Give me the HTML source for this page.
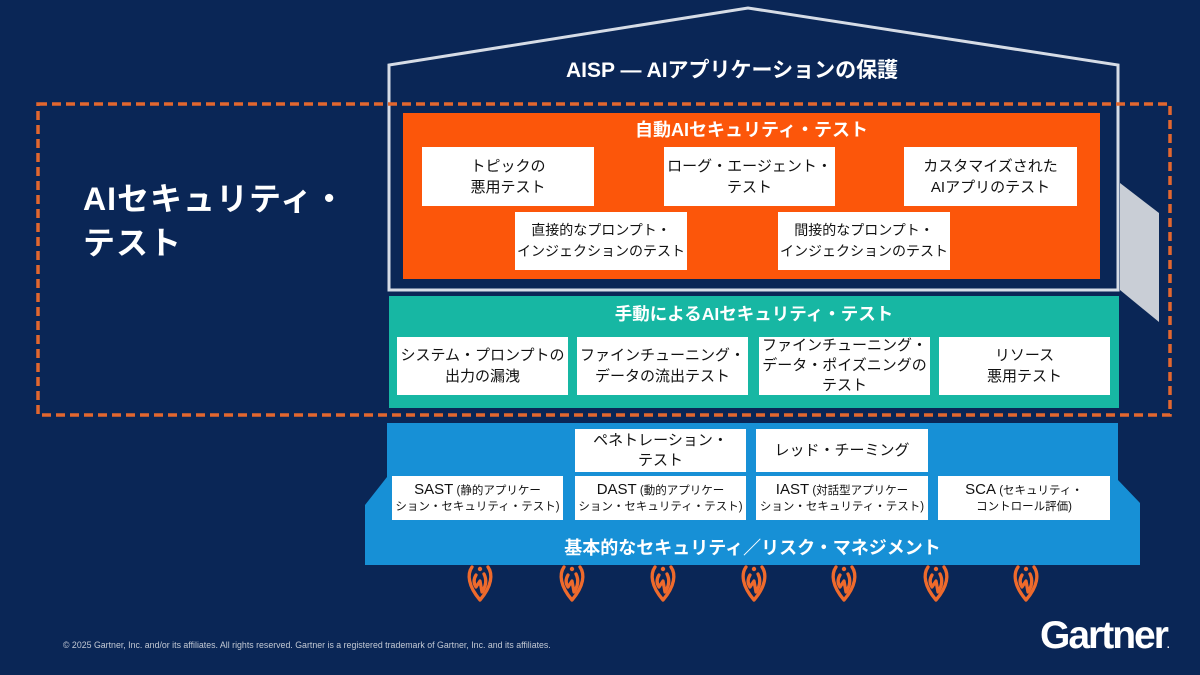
<!DOCTYPE html>
<html><head><meta charset="utf-8">
<style>
html,body{margin:0;padding:0;}
body{width:1200px;height:675px;position:relative;overflow:hidden;background:#0a2656;font-family:"Liberation Sans","Noto Sans CJK JP",sans-serif;}
.t{position:absolute;color:#fff;font-weight:bold;white-space:nowrap;}
.b{position:absolute;background:#fff;display:flex;align-items:center;justify-content:center;text-align:center;font-size:15px;line-height:21px;color:#111;white-space:nowrap;}
.s{font-size:11.5px;line-height:16px;}
.s .a{font-size:15px;}
</style></head><body>
<svg width="1200" height="675" style="position:absolute;left:0;top:0">
<rect width="1200" height="675" fill="#0a2656"/>
<polygon points="1120,183 1159,213 1159,322 1120,290" fill="#c9ced6"/>
<polygon points="389,290 389,65 748,8 1118,65 1118,290" fill="none" stroke="#d6dce6" stroke-width="3"/>
<rect x="403" y="113" width="697" height="166" fill="#fc560a"/>
<rect x="389" y="296" width="730" height="112" fill="#17b7a3"/>
<polygon points="387,423 1118,423 1118,480 1140,503 1140,565 365,565 365,505 387,477" fill="#1790d6"/>
<rect x="38" y="104" width="1132" height="311" fill="none" stroke="#e2672f" stroke-width="3.5" stroke-dasharray="9 5"/>
<defs>
<g id="fl" fill="none" stroke="#ee6a2c" stroke-width="3.3" stroke-linejoin="round" stroke-linecap="round">
<path d="M5,3 C0,10 1,22 13,36 C25,22 26,10 21,3"/>
<circle cx="13" cy="5" r="2.2" fill="#ee6a2c" stroke="none"/>
<path d="M9,11 C6,16 7,20 9,23 L13,17 L15,28 C19,22 20,16 17,10"/>
</g>
</defs>
<use href="#fl" x="467" y="564"/>
<use href="#fl" x="559" y="564"/>
<use href="#fl" x="650" y="564"/>
<use href="#fl" x="741" y="564"/>
<use href="#fl" x="831" y="564"/>
<use href="#fl" x="923" y="564"/>
<use href="#fl" x="1013" y="564"/>
</svg>

<div class="t" style="left:83px;top:177px;font-size:32px;line-height:44px;letter-spacing:1px;">AIセキュリティ・<br>テスト</div>

<div class="t" style="left:566px;top:58px;font-size:21px;line-height:26px;">AISP — AIアプリケーションの保護</div>

<div class="t" style="left:403px;width:697px;top:119px;font-size:18px;line-height:22px;text-align:center;">自動AIセキュリティ・テスト</div>
<div class="b" style="left:422px;top:147px;width:172px;height:59px;">トピックの<br>悪用テスト</div>
<div class="b" style="left:664px;top:147px;width:171px;height:59px;">ローグ・エージェント・<br>テスト</div>
<div class="b" style="left:904px;top:147px;width:173px;height:59px;">カスタマイズされた<br>AIアプリのテスト</div>
<div class="b" style="left:515px;top:212px;width:172px;height:58px;font-size:14px;">直接的なプロンプト・<br>インジェクションのテスト</div>
<div class="b" style="left:778px;top:212px;width:172px;height:58px;font-size:14px;">間接的なプロンプト・<br>インジェクションのテスト</div>

<div class="t" style="left:389px;width:730px;top:303px;font-size:17.5px;line-height:22px;text-align:center;">手動によるAIセキュリティ・テスト</div>
<div class="b" style="left:397px;top:337px;width:171px;height:58px;">システム・プロンプトの<br>出力の漏洩</div>
<div class="b" style="left:577px;top:337px;width:171px;height:58px;">ファインチューニング・<br>データの流出テスト</div>
<div class="b" style="left:759px;top:337px;width:171px;height:58px;line-height:20px;">ファインチューニング・<br>データ・ポイズニングの<br>テスト</div>
<div class="b" style="left:939px;top:337px;width:171px;height:58px;">リソース<br>悪用テスト</div>

<div class="b" style="left:575px;top:429px;width:171px;height:43px;line-height:20px;">ペネトレーション・<br>テスト</div>
<div class="b" style="left:756px;top:429px;width:172px;height:43px;">レッド・チーミング</div>
<div class="b s" style="left:392px;top:476px;width:171px;height:44px;"><div><span class="a">SAST</span> (静的アプリケー<br>ション・セキュリティ・テスト)</div></div>
<div class="b s" style="left:575px;top:476px;width:171px;height:44px;"><div><span class="a">DAST</span> (動的アプリケー<br>ション・セキュリティ・テスト)</div></div>
<div class="b s" style="left:756px;top:476px;width:172px;height:44px;"><div><span class="a">IAST</span> (対話型アプリケー<br>ション・セキュリティ・テスト)</div></div>
<div class="b s" style="left:938px;top:476px;width:172px;height:44px;"><div><span class="a">SCA</span> (セキュリティ・<br>コントロール評価)</div></div>

<div class="t" style="left:365px;width:775px;top:537px;font-size:18px;line-height:22px;text-align:center;">基本的なセキュリティ／リスク・マネジメント</div>

<div style="position:absolute;left:63px;top:640px;font-size:8.8px;line-height:10px;color:#c3c9d4;white-space:nowrap;">© 2025 Gartner, Inc. and/or its affiliates. All rights reserved. Gartner is a registered trademark of Gartner, Inc. and its affiliates.</div>
<div class="t" style="left:1040px;top:614px;font-size:39px;line-height:44px;letter-spacing:-2px;">Gartner<span style="font-size:10px;letter-spacing:0;">.</span></div>
</body></html>
